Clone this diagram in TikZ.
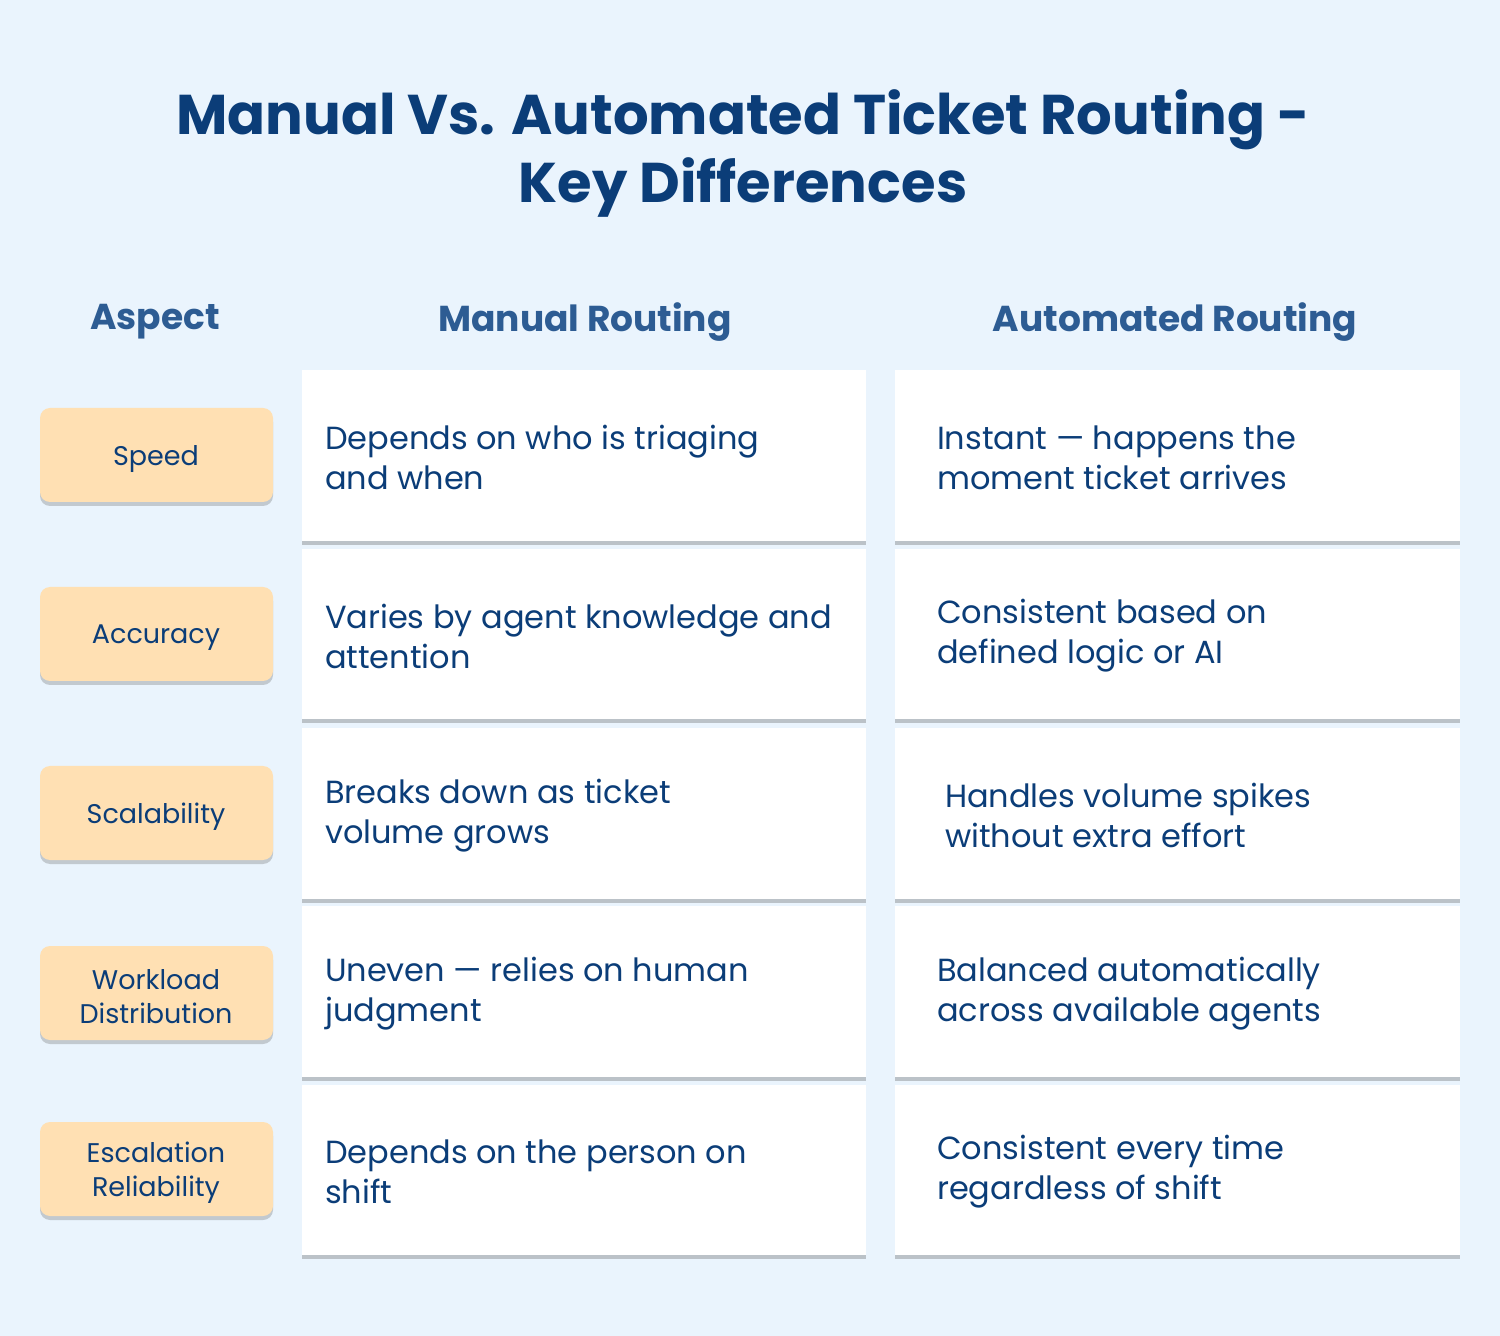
\documentclass[tikz,border=0pt]{standalone}
\usepackage{fontspec}
\setmainfont{Poppins}
\usetikzlibrary{shadows}
\definecolor{bg}{HTML}{EAF4FD}
\definecolor{navy}{HTML}{0B3D78}
\definecolor{hdr}{HTML}{2D5C93}
\definecolor{peach}{HTML}{FFE0B3}
\begin{document}
\begin{tikzpicture}[x=0.5pt,y=-0.5pt,
  card/.style={fill=white,draw=none,drop shadow={shadow xshift=0pt,shadow yshift=-2pt,opacity=0.35,fill=black!60}},
  asp/.style={fill=peach,rounded corners=5pt,drop shadow={shadow xshift=0pt,shadow yshift=-2pt,opacity=0.3,fill=black!60}},
  ctext/.style={anchor=west,align=left,text=navy,font=\fontsize{16}{20}\selectfont},
  atext/.style={align=center,text=navy,font=\fontsize{13.5}{17}\selectfont},
  htext/.style={text=hdr,font=\bfseries\fontsize{18}{22}\selectfont}]
\fill[bg] (0,0) rectangle (1500,1336);
\useasboundingbox (0,0) rectangle (1500,1336);
\node[text=navy,font=\bfseries\fontsize{28}{34}\selectfont,align=center] (title) at (743,153) {Manual Vs. Automated Ticket Routing -\\Key Differences};
\node[htext] (h1) at (155,322) {Aspect};
\node[htext] (h2) at (585,322) {Manual Routing};
\node[htext] (h3) at (1175,322) {Automated Routing};
\foreach \t/\b/\at/\ab/\asp/\man/\aut/\dx in {
 370/541/408/502/{Speed}/{Depends on who is triaging\\and when}/{Instant — happens the\\moment ticket arrives}/0,
 549/719/587/681/{Accuracy}/{Varies by agent knowledge and\\attention}/{Consistent based on\\defined logic or AI}/0,
 728/899/766/860/{Scalability}/{Breaks down as ticket\\volume grows}/{Handles volume spikes\\without extra effort}/8,
 906/1077/946/1040/{Workload\\Distribution}/{Uneven — relies on human\\judgment}/{Balanced automatically\\across available agents}/0,
 1085/1255/1122/1216/{Escalation\\Reliability}/{Depends on the person on\\shift}/{Consistent every time\\regardless of shift}/0}{
  \path[card] (302,\t) rectangle (866,\b);
  \path[card] (895,\t) rectangle (1460,\b);
  \path[asp] (40,\at) rectangle (273,\ab);
  \node[atext] at (156,{(\at+\ab)/2+4}) {\asp};
  \node[ctext] at (318,{(\t+\b)/2+2}) {\man};
  \node[ctext] at ({930+\dx},{(\t+\b)/2+2}) {\aut};
}
\end{tikzpicture}
\end{document}
